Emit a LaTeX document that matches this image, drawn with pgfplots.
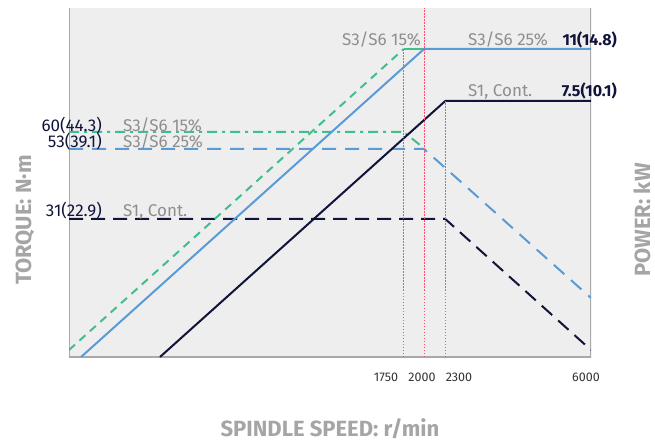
\documentclass[border=0pt]{standalone}
\usepackage{fontspec}
\setmainfont{Fira Sans}
\usepackage{pgfplots}
\pgfplotsset{compat=1.18}

\definecolor{bggray}{HTML}{EEEEEE}
\definecolor{framegray}{HTML}{A9A9A9}
\definecolor{labgray}{HTML}{8E8E8E}
\definecolor{titlegray}{HTML}{A5A5A5}
\definecolor{cgreen}{HTML}{40BE8C}
\definecolor{cblue}{HTML}{5A9BD7}
\definecolor{cnavy}{HTML}{10143A}
\definecolor{cred}{HTML}{FF4F6A}

\begin{document}
\begin{tikzpicture}[x=1pt,y=1pt]
\useasboundingbox (0,0) rectangle (655,442);
\begin{axis}[
    at={(69pt,85pt)}, anchor=south west,
    scale only axis, width=522pt, height=349pt,
    xmode=log, xmin=193.5, xmax=6000,
    ymin=0, ymax=349,
    axis line style={draw=none},
    ticks=none,
    axis background/.style={fill=bggray},
]
% frame (left, bottom, right)
\draw[framegray, line width=2pt] (rel axis cs:0,1) -- (rel axis cs:0,0) -- (rel axis cs:1,0) -- (rel axis cs:1,1);

% torque curves
\addplot[cnavy, line width=2pt, dash pattern=on 14pt off 8pt] coordinates {(193.5,138) (2300,138) (6000,7)};
\addplot[cblue, line width=2pt, dash pattern=on 14pt off 9pt] coordinates {(193.5,208) (2000,208) (6000,59)};
\addplot[cgreen, line width=2pt, dash pattern=on 10pt off 5pt on 3pt off 5pt] coordinates {(193.5,225) (1750,225) (1980,210)};

% power curves
\addplot[cgreen, line width=2pt, dash pattern=on 8pt off 6pt] coordinates {(193.5,7) (1750,308)};
\addplot[cgreen, line width=2pt] coordinates {(1750,308) (2000,308)};
\addplot[cblue, line width=2pt] coordinates {(209.4,0) (2000,308) (6000,308)};
\addplot[cnavy, line width=2pt] coordinates {(352,0) (2300,256) (6000,256)};

% reference speeds
\addplot[cred, line width=1pt, dash pattern=on 1.5pt off 1.5pt] coordinates {(1750,0) (1750,308)};
\addplot[cred, line width=1pt, dash pattern=on 1.5pt off 1.5pt] coordinates {(2000,0) (2000,349)};
\addplot[cred, line width=1pt, dash pattern=on 1.5pt off 1.5pt] coordinates {(2300,0) (2300,256)};
\end{axis}

% curve labels
\begingroup\fontsize{17}{19}\selectfont
\node[labgray, anchor=base east, inner sep=0] at (421,396) {S3/S6 15\%};
\node[labgray, anchor=base west, inner sep=0] at (468,396) {S3/S6 25\%};
\node[labgray, anchor=base west, inner sep=0] at (468,345) {S1, Cont.};

\node[labgray, anchor=base west, inner sep=0] at (123,310) {S3/S6 15\%};
\node[labgray, anchor=base west, inner sep=0] at (123,294) {S3/S6 25\%};
\node[labgray, anchor=base west, inner sep=0] at (123,225) {S1, Cont.};
\node[cnavy, anchor=base east, inner sep=0] at (102,310) {60(44.3)};
\node[cnavy, anchor=base east, inner sep=0] at (102,294) {53(39.1)};
\node[cnavy, anchor=base east, inner sep=0] at (102,225) {31(22.9)};
\endgroup
\begingroup\fontsize{16}{18}\selectfont\bfseries
\node[cnavy, anchor=base east, inner sep=0] at (617,396) {11(14.8)};
\node[cnavy, anchor=base east, inner sep=0] at (617,345) {7.5(10.1)};
\endgroup

% speed labels
\begingroup\fontsize{12.5}{14}\selectfont
\node[black!80, anchor=base, inner sep=0] at (386,61) {1750};
\node[black!80, anchor=base, inner sep=0] at (422,61) {2000};
\node[black!80, anchor=base, inner sep=0] at (459,61) {2300};
\node[black!80, anchor=base, inner sep=0] at (586,61) {6000};
\endgroup

% axis titles
\begingroup\fontsize{22}{24}\selectfont\bfseries
\node[titlegray, anchor=base, inner sep=0] at (330,6) {SPINDLE SPEED: r/min};
\node[titlegray, anchor=base, inner sep=0, rotate=90] at (31,222) {TORQUE: N·m};
\node[titlegray, anchor=base, inner sep=0, rotate=90] at (650,222) {POWER: kW};
\endgroup
\end{tikzpicture}
\end{document}
